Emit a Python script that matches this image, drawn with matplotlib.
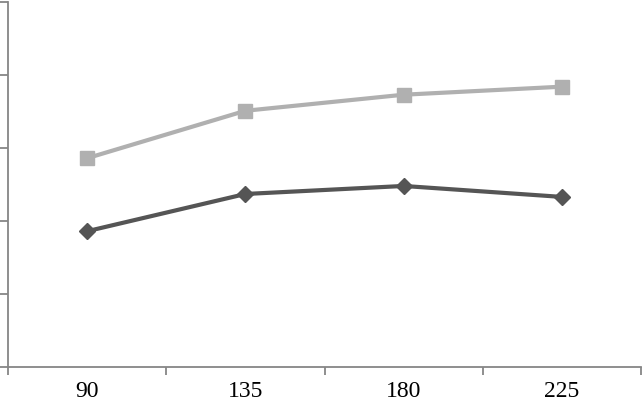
import matplotlib
matplotlib.use("Agg")
import matplotlib.pyplot as plt
from matplotlib.ticker import FixedLocator, NullFormatter

categories = ["90", "135", "180", "225"]
lower = [1.86, 2.37, 2.48, 2.33]
upper = [2.86, 3.51, 3.73, 3.84]

fig = plt.figure(figsize=(6.43, 4.03), dpi=100)
ax = fig.add_axes([8 / 643, (403 - 367) / 403, 633 / 643, 365 / 403])

x = range(len(categories))
ax.plot(x, upper, color="#b0b0b0", lw=3, marker="s", ms=10, zorder=3)
ax.plot(x, lower, color="#555555", lw=3, marker="D", ms=8, zorder=3)

ax.set_xlim(-0.5, 3.5)
ax.set_ylim(0, 5)

axis_col = "#868686"
for side in ["top", "right"]:
    ax.spines[side].set_visible(False)
for side in ["left", "bottom"]:
    ax.spines[side].set_color(axis_col)
    ax.spines[side].set_linewidth(1.3)

ax.set_yticks([0, 1, 2, 3, 4, 5])
ax.yaxis.set_major_formatter(NullFormatter())
ax.tick_params(axis="y", length=6, width=1.3, color=axis_col, direction="out")

ax.set_xticks(list(x))
ax.set_xticklabels(categories, fontfamily="Liberation Serif", fontsize=17)
ax.tick_params(axis="x", which="major", length=0, pad=10)
ax.xaxis.set_minor_locator(FixedLocator([-0.5, 0.5, 1.5, 2.5, 3.5]))
ax.tick_params(axis="x", which="minor", length=6, width=1.3, color=axis_col, direction="out")

fig.savefig("out.png", dpi=100)
